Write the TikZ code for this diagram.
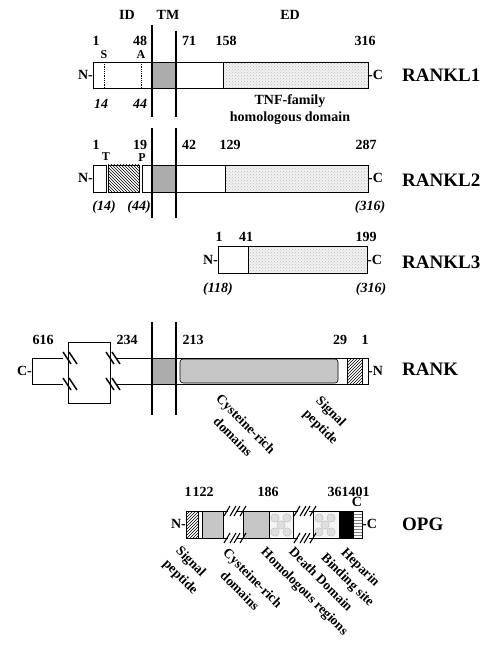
\documentclass[tikz,border=0pt]{standalone}
\usepackage{fontspec}
\setmainfont{Liberation Serif}
\usepackage{tikz}
\usetikzlibrary{patterns,positioning}

% break mark on a cut band line
\newcommand{\brkR}[2]{\draw[line width=1.1pt] (#1-6,#2+5) -- (#1,#2-5) (#1,#2+5) -- (#1+6,#2-5);}
\newcommand{\brkL}[2]{\draw[line width=1.4pt] (#1-7,#2-6) -- (#1+1,#2+6) (#1-1,#2-6) -- (#1+7,#2+6);}

\begin{document}
\begin{tikzpicture}[x=1pt, y=-1pt,
  txt/.style={font=\bfseries\fontsize{14}{14}\selectfont, inner sep=0pt},
  small/.style={font=\bfseries\fontsize{12}{12}\selectfont, inner sep=0pt},
  ital/.style={font=\bfseries\itshape\fontsize{14}{14}\selectfont, inner sep=0pt},
  prot/.style={font=\bfseries\fontsize{19}{19}\selectfont, inner sep=0pt, anchor=west},
  tilt/.style={font=\bfseries\fontsize{13.5}{18}\selectfont, inner sep=0pt, rotate=-45, anchor=north west},
  band/.style={draw, line width=0.6pt},
  stip/.style={band, preaction={fill=gray!10}, pattern=crosshatch dots, pattern color=gray!55},
  tmd/.style={band, fill=gray!65},
  cys/.style={band, fill=gray!45},
  tmline/.style={line width=2.6pt}
]
\useasboundingbox (0,0) rectangle (484,647);

% Regions
\node[txt] (id) at (127,15) {ID};
\node[txt] (tm) at (168,15) {TM};
\node[txt] (ed) at (290,15) {ED};

% RANKL1
\draw[band] (93,62) rectangle (223,88);
\draw[tmd] (152,62) rectangle (176,88);
\draw[stip] (223,62) rectangle (368,88);
\draw[densely dotted, line width=0.8pt] (104,62) -- (104,88) (141,62) -- (141,88);
\draw[tmline] (152,25) -- (152,117);
\draw[tmline] (176,31) -- (176,117);
\node[txt] (l1a) at (96,41) {1};
\node[txt] (l1b) at (140,41) {48};
\node[txt] (l1c) at (189,41) {71};
\node[txt] (l1d) at (226,41) {158};
\node[txt] (l1e) at (365,41) {316};
\node[small] (l1s) at (104,55) {S};
\node[small] (l1t) at (141,55) {A};
\node[txt, anchor=east] (l1n) at (93,75) {N-};
\node[txt, anchor=west] (l1cterm) at (368,75) {-C};
\node[prot] (rankl1) at (402,75) {RANKL1};
\node[ital] (l1f) at (101,104) {14};
\node[ital] (l1g) at (140,104) {44};
\node[txt, align=center, font=\bfseries\fontsize{14}{17}\selectfont] (tnf) at (290,110) {TNF-family\\homologous domain};

% RANKL2
\draw[band] (93,165) rectangle (106,192);
\draw[band, pattern=north west lines] (108,165) rectangle (139,192);
\draw[band] (142,165) rectangle (225,192);
\draw[tmd] (152,165) rectangle (176,192);
\draw[stip] (225,165) rectangle (368,192);
\draw[tmline] (152,128) -- (152,218);
\draw[tmline] (176,128) -- (176,218);
\node[txt] (l2a) at (96,145) {1};
\node[txt] (l2b) at (140,145) {19};
\node[txt] (l2c) at (189,145) {42};
\node[txt] (l2d) at (230,145) {129};
\node[txt] (l2e) at (366,145) {287};
\node[small] (l2t) at (106,157) {T};
\node[small] (l2p) at (142,158) {P};
\node[txt, anchor=east] (l2n) at (93,178) {N-};
\node[txt, anchor=west] (l2cterm) at (368,178) {-C};
\node[prot] (rankl2) at (402,180) {RANKL2};
\node[ital] (l2f) at (104,207) {(14)};
\node[ital] (l2g) at (139,207) {(44)};
\node[ital] (l2h) at (370,207) {(316)};

% RANKL3
\draw[band] (218,246) rectangle (248,273);
\draw[stip] (248,246) rectangle (367,273);
\node[txt] (l3a) at (219,237) {1};
\node[txt] (l3b) at (246,237) {41};
\node[txt] (l3c) at (366,237) {199};
\node[txt, anchor=east] (l3n) at (218,260) {N-};
\node[txt, anchor=west] (l3cterm) at (367,260) {-C};
\node[prot] (rankl3) at (402,262) {RANKL3};
\node[ital] (l3f) at (218,289) {(118)};
\node[ital] (l3g) at (371,289) {(316)};

% RANK
\draw[band] (63,358) -- (32,358) -- (32,384) -- (63,384);
\draw[band] (68,342) rectangle (110,403);
\draw[band] (117,358) -- (368,358) -- (368,384) -- (117,384);
\draw[tmd] (152,358) rectangle (176,384);
\draw[band, fill=gray!45, rounded corners=3pt] (180,359) rectangle (338,383);
\draw[band, pattern=north east lines] (347,358) rectangle (362,384);
\brkL{70}{358} \brkL{70}{384} \brkL{113}{358} \brkL{113}{384}
\draw[tmline] (152,322) -- (152,415);
\draw[tmline] (176,322) -- (176,415);
\node[txt] (ra) at (43,340) {616};
\node[txt] (rb) at (127,340) {234};
\node[txt] (rc) at (193,340) {213};
\node[txt] (rd) at (340,340) {29};
\node[txt] (re) at (365,340) {1};
\node[txt, anchor=east] (rcterm) at (32,371) {C-};
\node[txt, anchor=west] (rnterm) at (368,371) {-N};
\node[prot] (rank) at (402,369) {RANK};
\node[tilt, align=center] (rcys) at (222,393) {Cysteine-rich\\domains};
\node[tilt, align=left] (rsig) at (322,395) {Signal\\peptide};

% OPG
\draw[band] (228,511) -- (186,511) -- (186,538) -- (228,538);
\draw[band] (236,511) -- (298,511) (236,538) -- (298,538);
\draw[band] (309,511) -- (362,511) -- (362,538) -- (309,538);
\draw[band, pattern=north east lines] (186,511) rectangle (198,538);
\draw[cys] (202,511) rectangle (223,538);
\draw[cys] (243,511) rectangle (269,538);
\draw[band, fill=gray!8] (269,511) rectangle (293,538);
\draw[band, fill=gray!8] (313,511) rectangle (339,538);
\foreach \cx in {269,313}
  \foreach \dx/\dy in {6/7, 18/7, 12/14, 6/21, 18/21}
    \draw[gray!55, fill=gray!25] (\cx+\dx,511+\dy) circle (4.2);
\draw[band, fill=black] (339,511) rectangle (353,538);
\draw[band, pattern=horizontal lines, pattern color=gray] (353,511) rectangle (362,538);
\brkR{230}{511} \brkR{230}{538} \brkR{240}{511} \brkR{240}{538}
\brkR{300}{511} \brkR{300}{538} \brkR{310}{511} \brkR{310}{538}
\node[txt] (oa) at (188,492) {1};
\node[txt] (ob) at (203,492) {122};
\node[txt] (oc) at (268,492) {186};
\node[txt] (od) at (338,492) {361};
\node[txt] (oe) at (359,492) {401};
\node[txt] (oc2) at (357,502) {C};
\node[txt, anchor=east] (on) at (186,524) {N-};
\node[txt, anchor=west] (octerm) at (362,524) {-C};
\node[prot] (opg) at (402,524) {OPG};
\node[tilt, align=left] (osig) at (182,545) {Signal\\peptide};
\node[tilt, align=center] (ocys) at (229,547) {Cysteine-rich\\domains};
\node[tilt] (ohom) at (267,546) {Homologous regions};
\node[tilt] (odd) at (295,546) {Death Domain};
\node[tilt, align=center] (ohep) at (340,539) {Heparin\\Binding site};
\end{tikzpicture}
\end{document}
